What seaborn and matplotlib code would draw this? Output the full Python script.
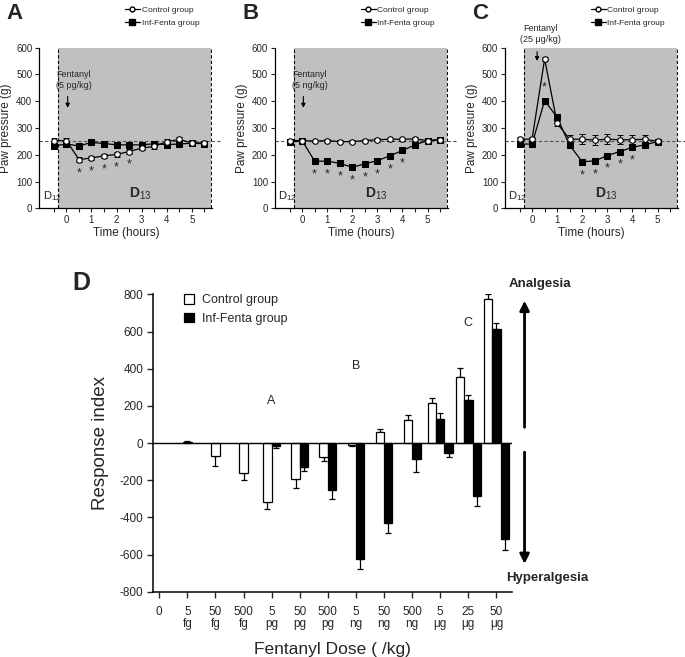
# Fentanyl dose-response: time courses (A-C) and response index (D)
import numpy as np
import matplotlib
matplotlib.use("Agg")
import matplotlib.pyplot as plt
import seaborn as sns
from matplotlib.lines import Line2D
from matplotlib.patches import Patch

sns.set_style("ticks")
plt.rcParams['font.family'] = ['Liberation Sans', 'DejaVu Sans']
plt.rcParams['mathtext.fontset'] = 'custom'
plt.rcParams['mathtext.rm'] = 'Liberation Sans'
plt.rcParams['mathtext.bf'] = 'Liberation Sans:bold'
plt.rcParams['mathtext.it'] = 'Liberation Sans:italic'
plt.rcParams['axes.unicode_minus'] = False

# Time course data (paw pressure, g)
time_h = [-0.5, 0, 0.5, 1, 1.5, 2, 2.5, 3, 3.5, 4, 4.5, 5, 5.5]

a_control = [253, 253, 182, 188, 196, 201, 212, 225, 231, 249, 257, 244, 244]
a_control_err = [8, 8, 8, 8, 8, 11, 11, 8, 8, 8, 8, 6, 6]
a_fenta = [233, 240, 233, 246, 242, 237, 237, 237, 241, 238, 240, 243, 241]
a_fenta_err = [8, 6, 12, 6, 6, 6, 6, 6, 6, 6, 6, 6, 6]
a_sig = [0.5, 1, 1.5, 2, 2.5]

b_control = [253, 253, 251, 253, 249, 249, 253, 256, 258, 258, 259, 253, 256]
b_control_err = [6, 6, 5, 5, 5, 5, 5, 5, 5, 5, 6, 5, 5]
b_fenta = [246, 253, 176, 176, 168, 153, 166, 178, 196, 216, 237, 253, 256]
b_fenta_err = [6, 6, 8, 8, 8, 8, 8, 8, 8, 8, 8, 6, 6]
b_sig = [0.5, 1, 1.5, 2, 2.5, 3, 3.5, 4]

c_time_h = [-0.5, 0, 0.5, 1, 1.5, 2, 2.5, 3, 3.5, 4, 4.5, 5]
c_control = [258, 258, 558, 317, 258, 258, 255, 258, 256, 256, 258, 250]
c_control_err = [8, 8, 8, 10, 16, 18, 18, 18, 16, 16, 16, 6]
c_fenta = [240, 240, 402, 340, 235, 174, 177, 197, 212, 228, 237, 249]
c_fenta_err = [8, 8, 10, 10, 8, 6, 6, 6, 6, 6, 6, 6]
c_sig = [0.5, 2, 2.5, 3, 3.5, 4]

# Response index data (panel D)
dose_labels = ['0', '5\nfg', '50\nfg', '500\nfg', '5\npg', '50\npg', '500\npg',
               '5\nng', '50\nng', '500\nng', '5\nμg', '25\nμg', '50\nμg']
control_ri = [np.nan, 5, -70, -163, -316, -194, -77, -8, 57, 122, 215, 357, 774]
control_sem = [0, 8, 52, 36, 41, 46, 20, 7, 17, 27, 29, 45, 27]
fenta_ri = [np.nan, np.nan, np.nan, np.nan, -15, -127, -253, -626, -432, -86, 131, 233, 615]
fenta_sem = [0, 0, 0, 0, 10, 22, 50, 54, 54, 68, 32, 23, 29]
fenta_hyper_ri = [np.nan] * 10 + [-54, -283, -516]
fenta_hyper_sem = [0] * 10 + [23, 56, 59]

fig = plt.figure(figsize=(6.85, 6.57), dpi=100)

panels = [
    ('A', 0.0574, time_h, a_control, a_control_err, a_fenta, a_fenta_err, a_sig, '5 pg/kg'),
    ('B', 0.4015, time_h, b_control, b_control_err, b_fenta, b_fenta_err, b_sig, '5 ng/kg'),
    ('C', 0.7372, c_time_h, c_control, c_control_err, c_fenta, c_fenta_err, c_sig, '25 μg/kg'),
]

for letter, left, t, ctrl, ctrl_err, fen, fen_err, sig, dose in panels:
    ax = fig.add_axes([left, 0.683, 0.2527, 0.2444])
    ax.axvspan(-0.32, 5.78, color='#c0c0c0', zorder=0, lw=0)
    for xv in (-0.32, 5.78):
        ax.plot([xv, xv], [0, 600], ls=(0, (3, 2)), color='black', lw=0.8, zorder=1)
    ax.plot([-1.08, 6.15], [250, 250], ls=(0, (3, 2)), color='#555555', lw=0.8,
            zorder=1, clip_on=False)

    ax.errorbar(t, fen, yerr=fen_err, fmt='none', ecolor='black', elinewidth=0.7,
                capsize=2, capthick=0.7, zorder=3)
    ax.errorbar(t, ctrl, yerr=ctrl_err, fmt='none', ecolor='black', elinewidth=0.7,
                capsize=2, capthick=0.7, zorder=3)
    sns.lineplot(x=t, y=fen, ax=ax, color='black', lw=0.9, marker='s', markersize=4.5,
                 markerfacecolor='black', markeredgecolor='black', zorder=4)
    sns.lineplot(x=t, y=ctrl, ax=ax, color='black', lw=0.9, marker='o', markersize=4,
                 markerfacecolor='white', markeredgecolor='black', markeredgewidth=0.8,
                 zorder=5)

    # significance stars: under the lower curve, or between the curves when far apart
    for s in sig:
        i = t.index(s)
        if abs(ctrl[i] - fen[i]) > 100:
            y_star = (ctrl[i] + fen[i]) / 2 - 30
        else:
            y_star = min(ctrl[i], fen[i]) - 50
        ax.text(s, y_star, '*', ha='center', va='center', fontsize=9)

    ax.set_xlim(-1.08, 5.82)
    ax.set_ylim(0, 600)
    ax.set_yticks(range(0, 601, 100))
    ax.set_xticks(range(0, 6))
    ax.set_xticks(np.arange(-0.5, 5.6, 0.5), minor=True)
    ax.tick_params(axis='both', which='both', direction='out', length=3, width=0.8,
                   labelsize=7, pad=2)
    for sp in ('left', 'bottom'):
        ax.spines[sp].set_linewidth(0.9)
        ax.spines[sp].set_color('black')
    sns.despine(ax=ax)
    ax.set_ylabel('Paw pressure (g)', fontsize=8.5, labelpad=3)
    ax.set_xlabel('Time (hours)', fontsize=8.5, labelpad=1)

    ax.text(-0.95, 20, 'D$_{12}$', fontsize=8, ha='left', va='bottom')
    ax.text(2.5, 22, r'$\mathbf{D}_{13}$', fontsize=10, ha='left', va='bottom')

    if letter == 'C':
        ax.text(0.33, 652, 'Fentanyl\n(25 μg/kg)', fontsize=6.5, ha='center',
                va='center', linespacing=1.3, clip_on=False)
        ax.annotate('', xy=(0.2, 540), xytext=(0.2, 596), annotation_clip=False,
                    arrowprops=dict(arrowstyle='-|>', color='black', lw=0.8,
                                    mutation_scale=6))
    else:
        ax.text(-0.4, 480, 'Fentanyl\n(%s)' % dose, fontsize=6.5, ha='left',
                va='center', linespacing=1.3)
        ax.annotate('', xy=(0.05, 365), xytext=(0.05, 428),
                    arrowprops=dict(arrowstyle='-|>', color='black', lw=0.8,
                                    mutation_scale=6))

    handles = [
        Line2D([], [], color='black', lw=0.9, marker='o', markersize=3.5,
               markerfacecolor='white', markeredgecolor='black'),
        Line2D([], [], color='black', lw=0.9, marker='s', markersize=4,
               markerfacecolor='black'),
    ]
    ax.legend(handles, ['Control group', 'Inf-Fenta group'], loc='upper left',
              bbox_to_anchor=(left + 0.125, 0.99), bbox_transform=fig.transFigure,
              frameon=False, fontsize=6, handlelength=1.8, handletextpad=0.2,
              labelspacing=0.6, borderaxespad=0, borderpad=0)

    fig.text(left - 0.048, 0.995, letter, fontsize=16, fontweight='bold',
             ha='left', va='top')

# Panel D
axd = fig.add_axes([0.2238, 0.0994, 0.5231, 0.4526])
bar_w = 0.3
for i in range(len(dose_labels)):
    bars = []
    if not np.isnan(control_ri[i]):
        bars.append((control_ri[i], control_sem[i], 'white'))
    if not np.isnan(fenta_ri[i]):
        bars.append((fenta_ri[i], fenta_sem[i], 'black'))
    if not np.isnan(fenta_hyper_ri[i]):
        bars.append((fenta_hyper_ri[i], fenta_hyper_sem[i], 'black'))
    n = len(bars)
    for j, (val, err, col) in enumerate(bars):
        xpos = i + (j - (n - 1) / 2) * bar_w
        axd.bar(xpos, val, width=bar_w, color=col, edgecolor='black', lw=0.9, zorder=3)
        yerr = [[0], [err]] if val >= 0 else [[err], [0]]
        axd.errorbar([xpos], [val], yerr=yerr, fmt='none', ecolor='black',
                     elinewidth=0.9, capsize=2.5, capthick=0.9, zorder=2)

axd.axhline(0, color='black', lw=1, zorder=4)
axd.set_xlim(-0.21, 12.54)
axd.set_ylim(-800, 800)
axd.set_yticks(range(-800, 801, 200))
axd.set_xticks(range(len(dose_labels)))
axd.set_xticklabels(dose_labels, linespacing=1.0)
axd.tick_params(axis='both', direction='out', length=4, width=1, labelsize=8.5,
                pad=3)
axd.tick_params(axis='x', pad=6)
for sp in ('left', 'bottom'):
    axd.spines[sp].set_linewidth(1.1)
    axd.spines[sp].set_color('black')
sns.despine(ax=axd)
axd.set_ylabel('Response index', fontsize=13.5, labelpad=8)
axd.set_xlabel('Fentanyl Dose ( /kg)', fontsize=12.5, labelpad=9)

axd.text(4, 228, 'A', fontsize=9, ha='center', va='center')
axd.text(7, 414, 'B', fontsize=9, ha='center', va='center')
axd.text(11, 644, 'C', fontsize=9, ha='center', va='center')

axd.annotate('', xy=(13.0, 780), xytext=(13.0, 70), annotation_clip=False,
             arrowprops=dict(arrowstyle='-|>', color='black', lw=2, mutation_scale=14))
axd.annotate('', xy=(13.0, -665), xytext=(13.0, -34), annotation_clip=False,
             arrowprops=dict(arrowstyle='-|>', color='black', lw=2, mutation_scale=14))
axd.text(13.55, 855, 'Analgesia', fontsize=9.5, fontweight='bold', ha='center',
         va='center', clip_on=False)
axd.text(13.8, -726, 'Hyperalgesia', fontsize=9.5, fontweight='bold', ha='center',
         va='center', clip_on=False)

d_handles = [Patch(facecolor='white', edgecolor='black', lw=0.9),
             Patch(facecolor='black', edgecolor='black', lw=0.9)]
axd.legend(d_handles, ['Control group', 'Inf-Fenta group'], loc='upper left',
           bbox_to_anchor=(0.268, 0.552), bbox_transform=fig.transFigure,
           frameon=False, fontsize=9, handlelength=0.8, handleheight=0.8,
           handletextpad=0.7, labelspacing=0.5, borderaxespad=0, borderpad=0)

fig.text(0.105, 0.588, 'D', fontsize=18, fontweight='bold', ha='left', va='top')

fig.savefig('out.png', dpi=100)
